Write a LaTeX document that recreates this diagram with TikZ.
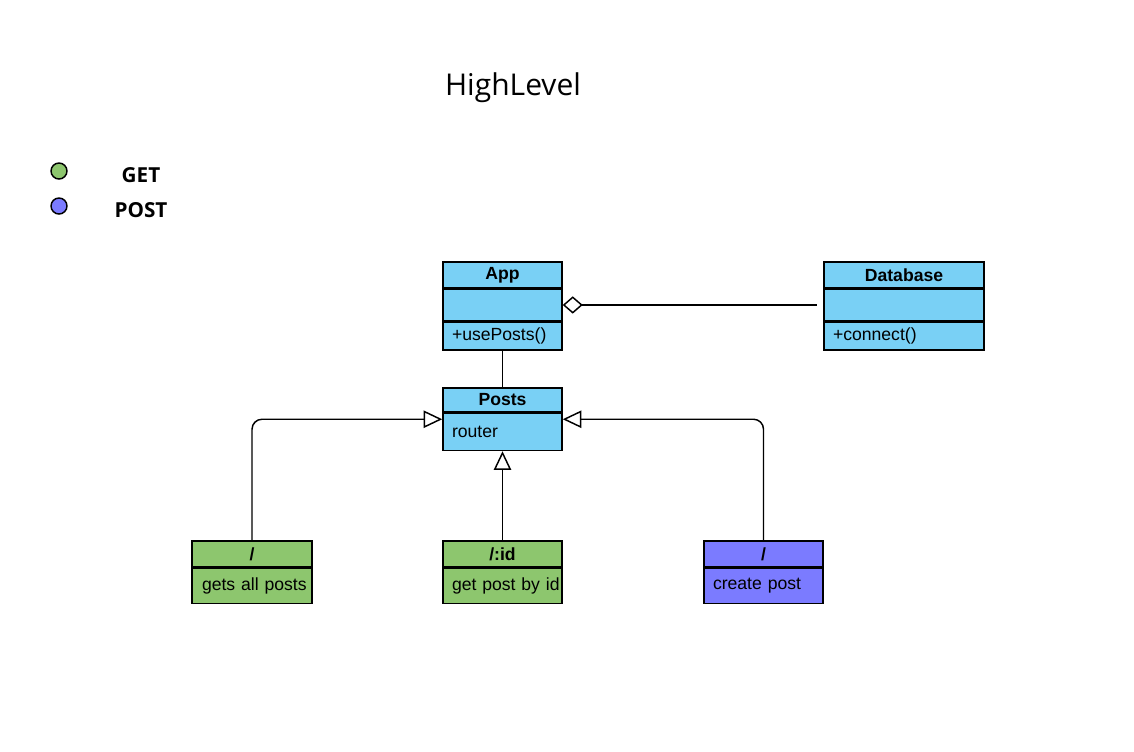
\documentclass[tikz,border=0pt]{standalone}
\usepackage{fontspec}
\setmainfont{Liberation Sans}
\newfontfamily\opensans{Open Sans}
\usetikzlibrary{positioning,arrows.meta,calc}
\definecolor{classblue}{HTML}{79D0F5}
\definecolor{getgreen}{HTML}{8DC66E}
\definecolor{postblue}{HTML}{7B7BFF}

\begin{document}
\begin{tikzpicture}[x=0.75pt, y=-0.75pt,
    box/.style={draw, line width=1.1pt, inner sep=0pt, font=\fontsize{13.2}{16}\selectfont},
    hdr/.style={box, font=\fontsize{13.2}{16}\selectfont\bfseries},
    body/.style={box, text width=#1, align=left, inner xsep=6.75pt},
    line/.style={line width=1.1pt},
    inherit/.style={line, -{Triangle[open,length=14pt,width=13pt]}, rounded corners=7.5pt},
    dot/.style={circle, draw, line width=1.1pt, minimum size=12pt, inner sep=0pt},
    legend/.style={font=\opensans\fontsize{15.5}{18}\selectfont\bfseries}]

    % Page
    \fill[white] (0,0) rectangle (1134,751);
    \useasboundingbox (0,0) rectangle (1134,751);

    % Title
    \node[font=\opensans\fontsize{22.5}{27}\selectfont] (title) at (513,88) {HighLevel};

    % Legend
    \node[dot, fill=getgreen] (getdot) at (59,171) {};
    \node[legend] (gettxt) at (141,175) {GET};
    \node[dot, fill=postblue] (postdot) at (59,206) {};
    \node[legend] (posttxt) at (141,210) {POST};

    % App class
    \node[hdr, fill=classblue, minimum width=89.25pt, minimum height=19.5pt] (apphdr) at (502.5,275) {App};
    \node[box, fill=classblue, minimum width=89.25pt, minimum height=23.25pt, below=0pt of apphdr] (appattr) {};
    \node[body=75.75pt, fill=classblue, minimum height=21pt, below=0pt of appattr] (appops) {+usePosts()};

    % Database class
    \node[hdr, fill=classblue, minimum width=120pt, minimum height=19.5pt] (dbhdr) at (904,275) {Database};
    \node[box, fill=classblue, minimum width=120pt, minimum height=23.25pt, below=0pt of dbhdr] (dbattr) {};
    \node[body=106.5pt, fill=classblue, minimum height=21pt, below=0pt of dbattr] (dbops) {+connect()};

    % Posts class
    \node[hdr, fill=classblue, minimum width=89.25pt, minimum height=18pt] (postshdr) at (502.5,400) {Posts};
    \node[body=75.75pt, fill=classblue, minimum height=27.75pt, below=0pt of postshdr] (postsbody) {router};

    % Routes
    \node[hdr, fill=getgreen, minimum width=90pt, minimum height=19.5pt] (allhdr) at (252,554) {/};
    \node[body=75pt, inner xsep=7.5pt, fill=getgreen, minimum height=26.25pt, below=0pt of allhdr] (allbody) {\mbox{gets all posts}};
    \node[hdr, fill=getgreen, minimum width=89.25pt, minimum height=19.5pt] (idhdr) at (502.5,554) {/:id};
    \node[body=75.75pt, inner xsep=6.75pt, fill=getgreen, minimum height=26.25pt, below=0pt of idhdr] (idbody) {\mbox{get post by id}};
    \node[hdr, fill=postblue, minimum width=89.25pt, minimum height=19.5pt] (createhdr) at (763.5,554) {/};
    \node[body=75.75pt, fill=postblue, minimum height=26.25pt, below=0pt of createhdr] (createbody) {create post};

    % Connectors
    \draw[line, {Diamond[open,length=15pt,width=13pt]}-, shorten >=4.5pt] (appattr.east) -- (dbattr.west);
    \draw[line] (appops.south) -- (postshdr.north);
    \draw[inherit] (allhdr.north) |- ($(postshdr.north west)!.5!(postsbody.south west)$);
    \draw[inherit] (idhdr.north) -- (postsbody.south);
    \draw[inherit] (createhdr.north) |- ($(postshdr.north east)!.5!(postsbody.south east)$);
\end{tikzpicture}
\end{document}
